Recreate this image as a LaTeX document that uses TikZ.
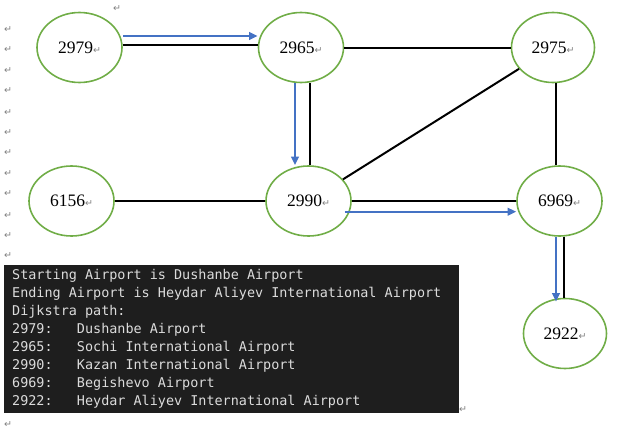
\documentclass[tikz,border=0pt]{standalone}
\usepackage{fontspec}
\setmainfont{Liberation Serif}
\newfontfamily\markfont{DejaVu Sans}
\newfontfamily\consolefont{DejaVu Sans Mono}
\usetikzlibrary{shapes.geometric,arrows.meta,calc}
\definecolor{nodegreen}{HTML}{70AD47}
\definecolor{pathblue}{HTML}{4472C4}
\definecolor{consolebg}{HTML}{1E1E1E}
\definecolor{consolefg}{HTML}{DCDCDC}
\definecolor{markgray}{HTML}{808080}
\newcommand{\pmark}{{\markfont\fontsize{9.5}{9.5}\selectfont\color{markgray}↵}}
\begin{document}
\begin{tikzpicture}[x=1pt,y=-1pt,
  airport/.style={ellipse, draw=nodegreen, line width=1.6pt, minimum width=85pt, minimum height=70pt, inner sep=0pt, font=\fontsize{17.5}{18}\selectfont},
  edge/.style={draw=black, line width=2pt},
  route/.style={draw=pathblue, line width=2pt, -{Triangle[length=8.5pt,width=7.5pt]}},
  pm/.style={inner sep=0pt, font=\markfont\fontsize{9.5}{9.5}\selectfont, text=markgray},
  consoleline/.style={anchor=base west, inner sep=0pt, text=consolefg, font=\consolefont\fontsize{13.45}{14}\selectfont}]
\useasboundingbox (0,0) rectangle (641,431);

% airports
\node[airport] (n2979) at (79.5,47.5) {2979\pmark};
\node[airport] (n2965) at (301,47.5) {2965\pmark};
\node[airport, minimum width=83pt] (n2975) at (553,47.5) {2975\pmark};
\node[airport] (n6156) at (71.5,201) {6156\pmark};
\node[airport] (n2990) at (308.5,201) {2990\pmark};
\node[airport] (n6969) at (559.5,201) {6969\pmark};
\node[airport, minimum width=83pt] (n2922) at (565,333.5) {2922\pmark};

% connections
\draw[edge] ([yshift=2.5pt]n2979.east) -- ([yshift=2.5pt]n2965.west);
\draw[route] ([yshift=11.5pt]n2979.east) -- ([yshift=11.5pt]n2965.west);
\draw[edge] (n2965.east) -- (n2975.west);
\draw[edge] ($(n2965.south)+(9,0)$) -- ($(n2965.south |- n2990.north)+(9,0)$);
\draw[route] ($(n2965.south)+(-6,0)$) -- ($(n2965.south |- n2990.north)+(-6,0)$);
\draw[edge] (n2975) -- (n2990);
\draw[edge] ($(n2975.south)+(3,0)$) -- ($(n2975.south |- n6969.north)+(3,0)$);
\draw[edge] (n6156.east) -- (n2990.west);
\draw[edge] (n2990.east) -- (n6969.west);
\draw[route] ($(n2990.east)+(-7,10.7)$) -- ($(n6969.west)+(0,10.7)$);
\draw[edge] ($(n6969.south)+(4.5,0)$) -- ($(n6969.south |- n2922.north)+(4.5,0)$);
\draw[route] ($(n6969.south)+(-3.5,0)$) -- ($(n6969.south |- n2922.north)+(-3.5,4)$);

% console output
\node[fill=consolebg, inner sep=0pt, minimum width=455pt, minimum height=148pt, anchor=north west] (console) at (4,265) {};
\node[consoleline] (l1) at (12,279) {Starting Airport is Dushanbe Airport};
\node[consoleline] (l2) at (12,297.1) {Ending Airport is Heydar Aliyev International Airport};
\node[consoleline] (l3) at (12,315.2) {Dijkstra path:};
\node[consoleline] (l4) at (12,333.3) {2979:\ \ \ Dushanbe Airport};
\node[consoleline] (l5) at (12,351.4) {2965:\ \ \ Sochi International Airport};
\node[consoleline] (l6) at (12,369.5) {2990:\ \ \ Kazan International Airport};
\node[consoleline] (l7) at (12,387.6) {6969:\ \ \ Begishevo Airport};
\node[consoleline] (l8) at (12,405.7) {2922:\ \ \ Heydar Aliyev International Airport};

% paragraph marks
\node[pm] (t0) at (117,9) {↵};
\node[pm] (m1) at (8,30) {↵};
\node[pm] (m2) at (8,50) {↵};
\node[pm] (m3) at (8,71) {↵};
\node[pm] (m4) at (8,91) {↵};
\node[pm] (m5) at (8,113) {↵};
\node[pm] (m6) at (8,133) {↵};
\node[pm] (m7) at (8,153) {↵};
\node[pm] (m8) at (8,174) {↵};
\node[pm] (m9) at (8,194) {↵};
\node[pm] (m10) at (8,216) {↵};
\node[pm] (m11) at (8,236) {↵};
\node[pm] (m12) at (8,256) {↵};
\node[pm] (m13) at (463,410) {↵};
\node[pm] (m14) at (8,425) {↵};
\end{tikzpicture}
\end{document}
